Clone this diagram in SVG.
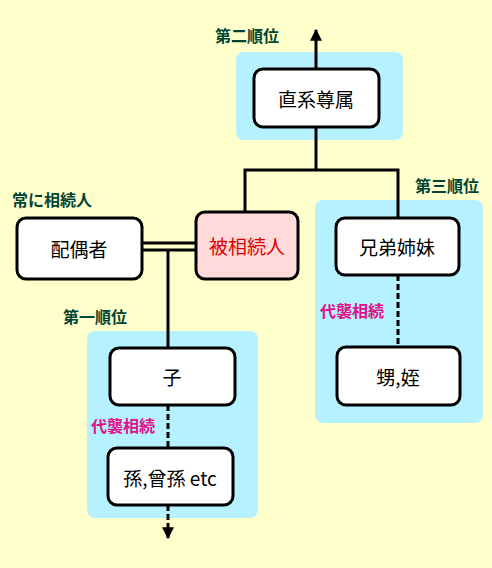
<svg xmlns="http://www.w3.org/2000/svg" width="492" height="568" viewBox="0 0 492 568">
<defs>
<style>
.panel{fill:#B5F1FF;}
.box{fill:#FFFFFF;stroke:#000;stroke-width:3;}
.main{fill:#FFDADA;stroke:#000;stroke-width:3;}
.t{font-family:"Noto Sans CJK JP","Noto Sans",sans-serif;font-size:19px;fill:#000;text-anchor:middle;dominant-baseline:central;}
.red{fill:#E00000;}
.lab{font-family:"Noto Sans CJK JP",sans-serif;font-size:16px;font-weight:bold;fill:#004433;}
.dai{font-family:"Noto Sans CJK JP",sans-serif;font-size:16px;font-weight:bold;fill:#E0108A;}
.ln{stroke:#000;stroke-width:3;fill:none;}
.dash{stroke:#000;stroke-width:3;fill:none;stroke-dasharray:6 3;}
</style>
<marker id="ah" viewBox="0 0 10 10" refX="9" refY="5" markerWidth="4" markerHeight="4" orient="auto">
<path d="M0,0 L10,5 L0,10 z" fill="#000"/>
</marker>
</defs>
<rect width="492" height="568" fill="#FFFFCC"/>
<g id="panels">
<rect class="panel" x="236" y="52" width="167" height="88" rx="8"/>
<rect class="panel" x="315" y="200" width="168" height="223" rx="8"/>
<rect class="panel" x="87" y="331" width="171" height="187" rx="8"/>
</g>
<g id="connectors">
<line class="ln" x1="316" y1="69" x2="316" y2="30" marker-end="url(#ah)"/>
<polyline class="ln" points="245,212 245,170 398,170 398,218"/>
<line class="ln" x1="316" y1="127" x2="316" y2="170"/>
<line class="ln" x1="142" y1="243" x2="196" y2="243"/>
<line class="ln" x1="142" y1="250" x2="196" y2="250"/>
<line class="ln" x1="168" y1="250" x2="168" y2="348"/>
<line class="dash" x1="398" y1="275" x2="398" y2="347"/>
<line class="dash" x1="168" y1="405" x2="168" y2="448"/>
<line class="dash" x1="168" y1="505" x2="168" y2="538" marker-end="url(#ah)"/>
</g>
<g id="label-second"><text class="lab" x="215" y="42">第二順位</text></g>
<g id="label-always"><text class="lab" x="12" y="206">常に相続人</text></g>
<g id="label-third"><text class="lab" x="415" y="192">第三順位</text></g>
<g id="label-first"><text class="lab" x="63" y="323">第一順位</text></g>
<g id="label-dai1"><text class="dai" x="320" y="317">代襲相続</text></g>
<g id="label-dai2"><text class="dai" x="91" y="432">代襲相続</text></g>
<g id="node-sonzoku"><rect class="box" x="254" y="69" width="125" height="58" rx="9"/><text class="t" x="316" y="98">直系尊属</text></g>
<g id="node-haigusha"><rect class="box" x="17" y="218" width="125" height="61" rx="9"/><text class="t" x="79" y="248">配偶者</text></g>
<g id="node-hisouzokunin"><rect class="main" x="196" y="212" width="102" height="67" rx="9"/><text class="t red" x="247" y="245">被相続人</text></g>
<g id="node-kyodai"><rect class="box" x="336" y="218" width="123" height="57" rx="9"/><text class="t" x="397" y="246">兄弟姉妹</text></g>
<g id="node-oimei"><rect class="box" x="337" y="347" width="123" height="58" rx="9"/><text class="t" x="398" y="376">甥,姪</text></g>
<g id="node-ko"><rect class="box" x="110" y="348" width="125" height="57" rx="9"/><text class="t" x="172" y="376">子</text></g>
<g id="node-mago"><rect class="box" x="108" y="448" width="125" height="57" rx="9"/><text class="t" x="170" y="477">孫,曾孫 etc</text></g>
</svg>
